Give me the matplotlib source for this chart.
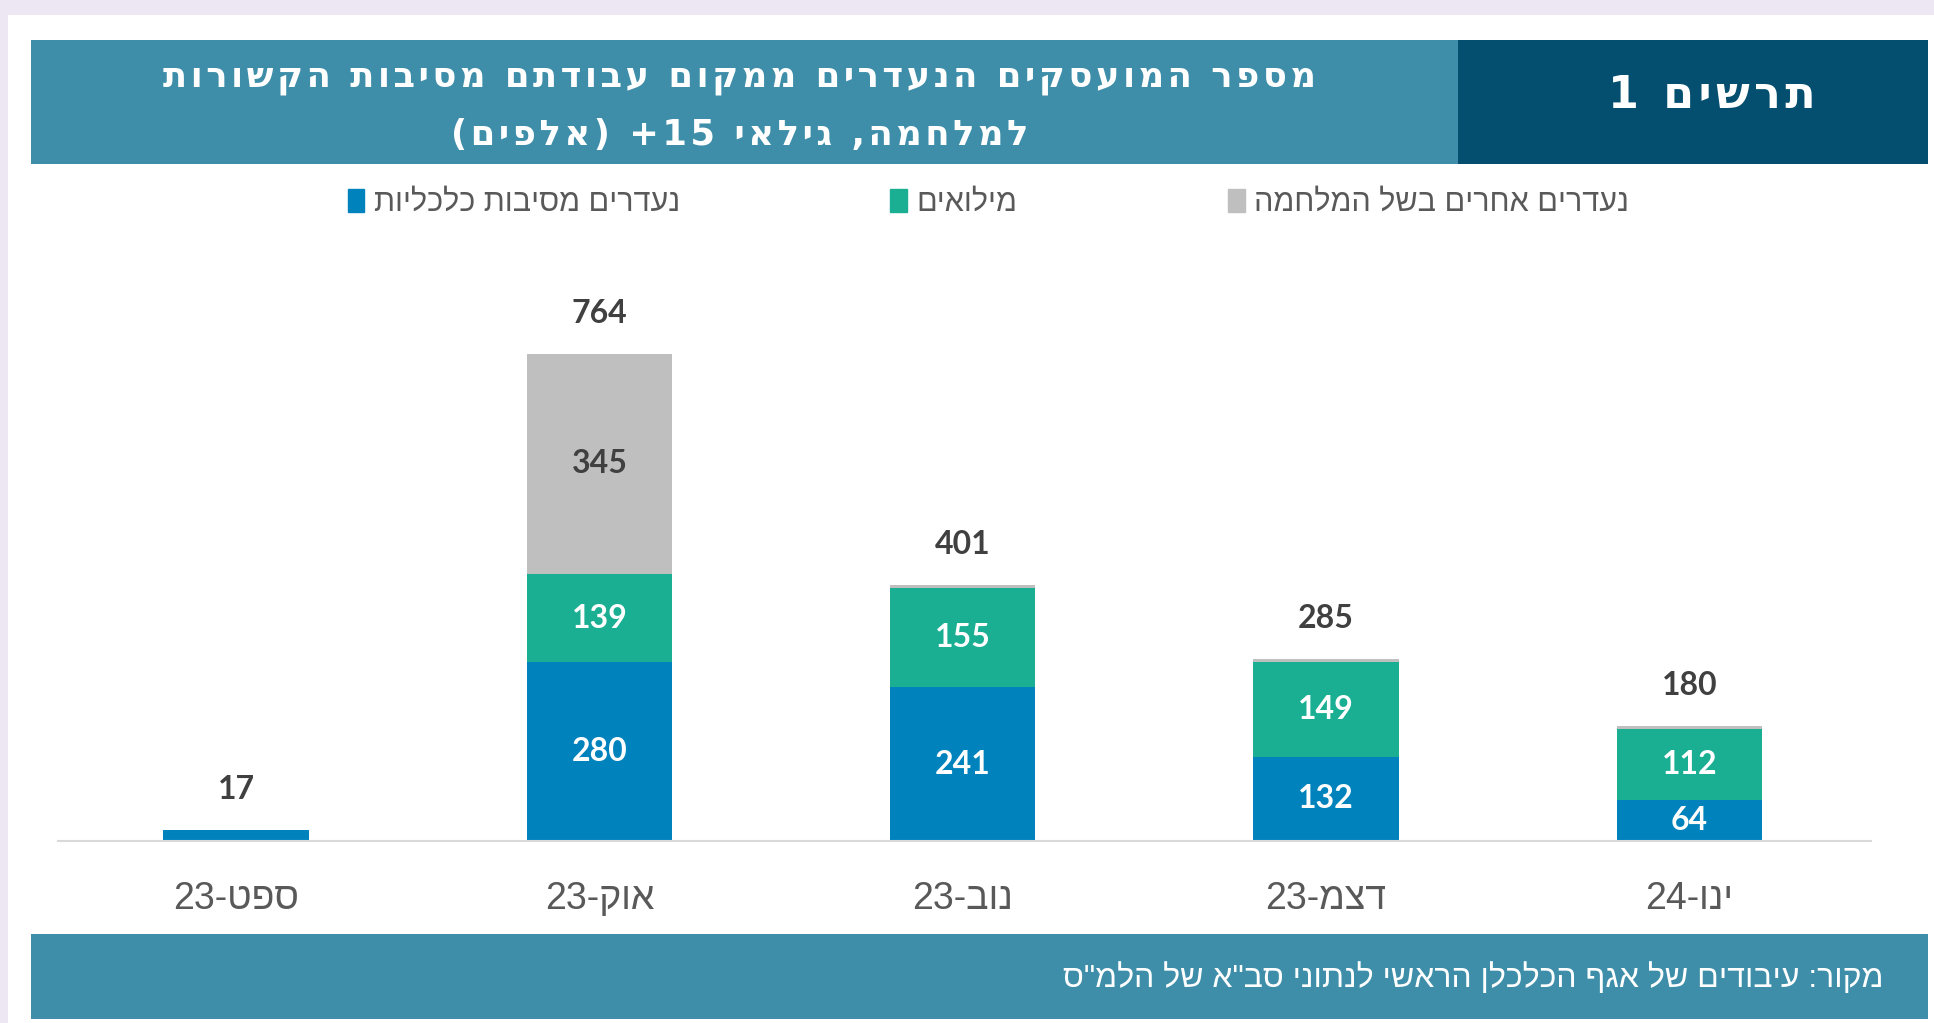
import re
import matplotlib
matplotlib.use("Agg")
import matplotlib.pyplot as plt
from matplotlib.patches import Rectangle, Patch
from matplotlib import font_manager

# נתונים (אלפים)
months = ["ספט-23", "אוק-23", "נוב-23", "דצמ-23", "ינו-24"]
economic = [17, 280, 241, 132, 64]
reserve = [0, 139, 155, 149, 112]
other = [0, 345, 5, 4, 4]
totals = [17, 764, 401, 285, 180]

series_names = ["נעדרים מסיבות כלכליות", "מילואים", "נעדרים אחרים בשל המלחמה"]
title_1 = "מספר המועסקים הנעדרים ממקום עבודתם מסיבות הקשורות"
title_2 = "למלחמה, גילאי 15+ (אלפים)"
chart_no = "תרשים 1"
source = 'מקור: עיבודים של אגף הכלכלן הראשי לנתוני סב"א של הלמ"ס'

c_blue = "#0083bd"
c_green = "#1aaf93"
c_gray = "#bfbfbf"
c_teal = "#3e8ea9"
c_dark = "#044f6f"
c_text = "#404040"


def heb(s):
    # matplotlib אינו תומך בכיווניות - הופכים לסדר חזותי, מספרים נשארים
    parts = re.findall(r"[0-9A-Za-z.]+|[^0-9A-Za-z.]", s)
    mirror = {"(": ")", ")": "("}
    return "".join(mirror.get(p, p) for p in reversed(parts))


def spaced(s, sp="\u200a"):
    # ריווח אותיות כמו בכותרת המקורית
    return sp.join(s)


names = {f.name for f in font_manager.fontManager.ttflist}
narrow = "Liberation Sans Narrow" if "Liberation Sans Narrow" in names else "Liberation Sans"
hfont = [narrow, "DejaVu Sans"]
nfont = ["Lato", "DejaVu Sans"]

fig = plt.figure(figsize=(19.34, 10.23), dpi=100, facecolor="#ede7f3")

# רקע לבן
fig.add_artist(Rectangle((0.004, 0.0), 0.996, 0.985, transform=fig.transFigure,
                         facecolor="white", edgecolor="none", zorder=0))
# כותרת
fig.add_artist(Rectangle((0.016, 0.8397), 0.981, 0.1212, transform=fig.transFigure,
                         facecolor=c_teal, edgecolor="none", zorder=1))
fig.add_artist(Rectangle((0.754, 0.8397), 0.243, 0.1212, transform=fig.transFigure,
                         facecolor=c_dark, edgecolor="none", zorder=1))
fig.text(0.3826, 0.9233, spaced(heb(title_1)), ha="center", va="center", color="white",
         fontsize=25.5, fontweight="bold", family=["DejaVu Sans"], zorder=2)
fig.text(0.3826, 0.8676, spaced(heb(title_2)), ha="center", va="center", color="white",
         fontsize=25.5, fontweight="bold", family=["DejaVu Sans"], zorder=2)
fig.text(0.885, 0.907, spaced(heb(chart_no)), ha="center", va="center",
         color="white", fontsize=32, fontweight="bold", family=["DejaVu Sans"], zorder=2)

# מקור
fig.add_artist(Rectangle((0.016, 0.004), 0.981, 0.083, transform=fig.transFigure,
                         facecolor=c_teal, edgecolor="none", zorder=1))
fig.text(0.974, 0.044, heb(source), ha="right", va="center", color="white",
         fontsize=23, family=hfont, zorder=2)

ax = fig.add_axes([0.030, 0.178, 0.9375, 0.4985])
x = list(range(len(months)))
w = 0.40
b1 = ax.bar(x, economic, w, color=c_blue)
b2 = ax.bar(x, reserve, w, bottom=economic, color=c_green)
bottom3 = [a + b for a, b in zip(economic, reserve)]
b3 = ax.bar(x, other, w, bottom=bottom3, color=c_gray)

# תוויות בתוך הקטעים
for bars, vals, bots, col in [(b1, economic, [0] * 5, "white"),
                              (b2, reserve, economic, "white"),
                              (b3, other, bottom3, c_text)]:
    for xi, v, b in zip(x, vals, bots):
        if v > 40:
            ax.text(xi, b + v / 2, str(v), ha="center", va="center", color=col,
                    fontsize=23, fontweight="bold", family=nfont)

for xi, t in zip(x, totals):
    ax.annotate(str(t), (xi, t), xytext=(0, 19), textcoords="offset points",
                ha="center", va="bottom", color=c_text, fontsize=23,
                fontweight="bold", family=nfont)

ax.set_xlim(-0.49, 4.5)
ax.set_ylim(0, 800)
ax.set_yticks([])
ax.set_xticks(x)
ax.set_xticklabels([heb(m) for m in months], fontsize=27, color="#595959", family=hfont)
ax.tick_params(axis="x", length=0, pad=29)
for s in ["top", "left", "right"]:
    ax.spines[s].set_visible(False)
ax.spines["bottom"].set_color("#d9d9d9")
ax.spines["bottom"].set_linewidth(1.5)
ax.set_facecolor("none")

handles = [Patch(color=c_blue), Patch(color=c_green), Patch(color=c_gray)]
fig.legend(handles, [heb(n) for n in series_names], loc="center", ncol=3,
           bbox_to_anchor=(0.511, 0.8015), frameon=False, handlelength=0.55,
           handleheight=0.75, handletextpad=0.3, columnspacing=6.9,
           prop={"family": hfont, "size": 22}, labelcolor="#595959")

fig.savefig("out.png", dpi=100, facecolor=fig.get_facecolor())
